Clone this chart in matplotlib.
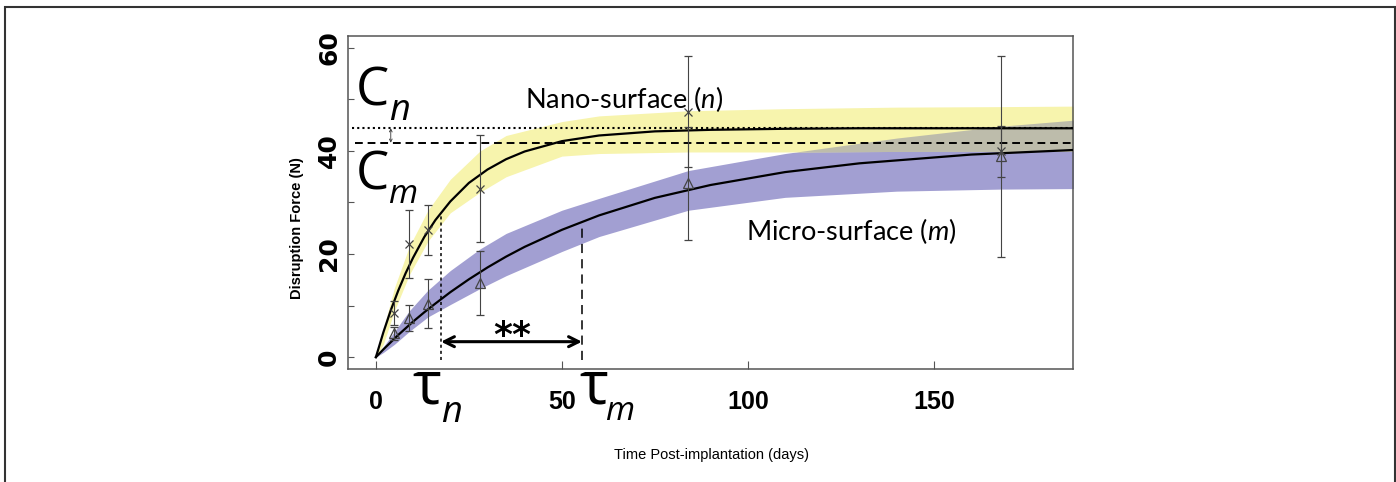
import numpy as np
import matplotlib
matplotlib.use("Agg")
import matplotlib.pyplot as plt
from matplotlib.patches import Rectangle

# sampling days
days = [5, 9, 14, 28, 84, 168]

# nano-surface measurements (mean, error)
nano_mean = [8.6, 21.9, 24.7, 32.7, 47.6, 39.9]
nano_err = [2.3, 6.6, 4.9, 10.3, 10.8, 5.0]

# micro-surface measurements (mean, error)
micro_mean = [4.6, 7.6, 10.4, 14.3, 33.7, 39.0]
micro_err = [1.3, 2.5, 4.8, 6.2, 11.0, 19.5]

# fitted curves
fit_t = [0, 2, 4, 6, 8, 10, 13, 16, 20, 25, 30, 35, 40, 50, 60, 75, 90, 110, 130, 160, 188]
nano_fit = [0, 4.8, 9.1, 12.9, 16.3, 19.3, 23.3, 26.6, 30.2, 33.8, 36.4, 38.4, 39.9,
            41.9, 43.0, 43.8, 44.1, 44.3, 44.4, 44.4, 44.4]
micro_fit = [0, 1.5, 2.9, 4.3, 5.6, 6.9, 8.7, 10.4, 12.6, 15.1, 17.4, 19.5, 21.4,
             24.7, 27.5, 30.9, 33.4, 35.9, 37.6, 39.3, 40.2]

# confidence bands
band_t = [0, 2, 5, 9, 14, 20, 28, 35, 50, 60, 84, 110, 140, 168, 188]
nano_lo = [0, 2.5, 9.0, 16.0, 22.5, 28.0, 32.0, 35.0, 39.0, 39.5, 39.8, 39.8, 39.9, 39.9, 40.0]
nano_hi = [0, 5.5, 13.5, 21.5, 28.5, 34.5, 40.0, 43.0, 45.7, 46.8, 47.8, 48.2, 48.5, 48.6, 48.7]
micro_lo = [0, 0.9, 2.5, 5.0, 7.8, 10.2, 13.3, 15.8, 20.5, 23.4, 28.5, 31.0, 32.2, 32.6, 32.7]
micro_hi = [0, 2.0, 5.0, 9.0, 13.0, 16.8, 21.0, 24.0, 28.5, 30.8, 36.2, 39.5, 42.5, 44.8, 46.0]

# plateau and time constants
C_n, C_m = 44.4, 41.6
tau_n, tau_m = 17.5, 55.4
tau_n_val, tau_m_val = 27.6, 25.8

W, H = 1396, 482


def px(x, y):
    return x / W, 1 - y / H


fig = plt.figure(figsize=(W / 100, H / 100), dpi=100)
ax = fig.add_axes([348 / W, 1 - 369 / H, (1073 - 348) / W, (369 - 36) / H])

ax.fill_between(band_t, micro_lo, micro_hi, color="#a29fd2", lw=0, zorder=1)
ax.fill_between(band_t, nano_lo, nano_hi, color="#f7f4ad", lw=0, zorder=2)
# where the two bands overlap
ov_lo = np.maximum(micro_lo, nano_lo)
ov_hi = np.minimum(micro_hi, nano_hi)
ax.fill_between(band_t, ov_lo, ov_hi, where=ov_hi > ov_lo, interpolate=True,
                color="#bdbcab", lw=0, zorder=2.5)

ax.plot(fit_t, nano_fit, color="black", lw=1.6, zorder=4)
ax.plot(fit_t, micro_fit, color="black", lw=1.6, zorder=4)

ax.errorbar(days, nano_mean, yerr=nano_err, fmt="x", color="#444444", ms=6, mew=0.9,
            elinewidth=0.8, capsize=3, capthick=0.8, zorder=5)
ax.errorbar(days, micro_mean, yerr=micro_err, fmt="^", color="#444444", mfc="none", ms=7,
            mew=0.9, elinewidth=0.8, capsize=3, capthick=0.8, zorder=5)

# plateau lines
ax.plot([-6.5, 188], [C_n, C_n], color="black", ls=(0, (1, 1.5)), lw=1.5, zorder=3)
ax.plot([-5.6, 188], [C_m, C_m], color="black", ls=(0, (4, 2.5)), lw=1.4, zorder=3)
ax.annotate("", xy=(4, C_m), xytext=(4, C_n),
            arrowprops=dict(arrowstyle="<->", lw=0.6, color="#333333", mutation_scale=5,
                            shrinkA=0, shrinkB=0))

# time constants
ax.plot([tau_n, tau_n], [-0.5, tau_n_val], color="black", ls=(0, (2, 2)), lw=1.1, zorder=3)
ax.plot([tau_m, tau_m], [-0.5, tau_m_val], color="black", ls=(0, (6, 4)), lw=1.1, zorder=3)
ax.annotate("", xy=(tau_n, 3.0), xytext=(tau_m, 3.0),
            arrowprops=dict(arrowstyle="<->", lw=2.2, color="black", mutation_scale=18,
                            shrinkA=0, shrinkB=0))

ax.set_xlim(-7.5, 187.4)
ax.set_ylim(-2.3, 62.3)
ax.set_xticks([0, 50, 100, 150])
ax.set_xticklabels(["0", "50", "100", "150"], fontfamily="Liberation Sans",
                   fontweight="bold", fontsize=18)
ax.set_yticks(range(0, 61, 10))
ax.set_yticklabels(["0", "", "20", "", "40", "", "60"], rotation=90, va="center",
                   fontfamily="DejaVu Sans", fontweight="bold", fontsize=18)
ax.tick_params(axis="x", direction="in", length=6, width=0.8, color="#555555", pad=15)
ax.tick_params(axis="y", direction="in", length=4, width=0.8, color="#555555", pad=5)
for s in ax.spines.values():
    s.set_color("#555555")
    s.set_linewidth(1.1)

# letters on the chart
big = ["Open Sans", "DejaVu Sans"]
fig.text(*px(356, 105), "C", fontsize=38, family=big, va="baseline")
fig.text(*px(389, 120), "n", fontsize=26, family=big, style="italic", va="baseline")
fig.text(*px(356, 190), "C", fontsize=38, family=big, va="baseline")
fig.text(*px(388, 203), "m", fontsize=24, family=big, style="italic", va="baseline")
fig.text(*px(412, 403), "τ", fontsize=44, family=big, va="baseline")
fig.text(*px(441, 422), "n", fontsize=26, family=big, style="italic", va="baseline")
fig.text(*px(579, 403), "τ", fontsize=44, family=big, va="baseline")
fig.text(*px(605, 420), "m", fontsize=24, family=big, style="italic", va="baseline")
fig.text(*px(512, 346), "**", fontsize=26, family="DejaVu Sans", fontweight="bold",
         ha="center", va="baseline")

plt.rcParams["mathtext.fontset"] = "custom"
plt.rcParams["mathtext.rm"] = "Lato"
plt.rcParams["mathtext.it"] = "Lato:italic"
fig.text(*px(525, 108), r"Nano-surface ($\mathit{n}$)", fontsize=19.5, family="Lato", va="baseline")
fig.text(*px(746, 240), r"Micro-surface ($\mathit{m}$)", fontsize=19.5, family="Lato", va="baseline")

fig.text(*px(712, 455), "Time Post-implantation (days)", fontsize=10.5,
         family="Liberation Sans", ha="center", va="center")
fig.text(*px(297, 228), "Disruption Force (N)", fontsize=10.5, family="Liberation Sans",
         fontweight="bold", rotation=90, ha="center", va="center")

# outer frame
fig.patches.append(Rectangle(px(5, 520), (1395 - 5) / W, (520 - 7) / H, transform=fig.transFigure,
                             fill=False, edgecolor="#333333", lw=1.5, clip_on=False))

fig.savefig("out.png", dpi=100)
